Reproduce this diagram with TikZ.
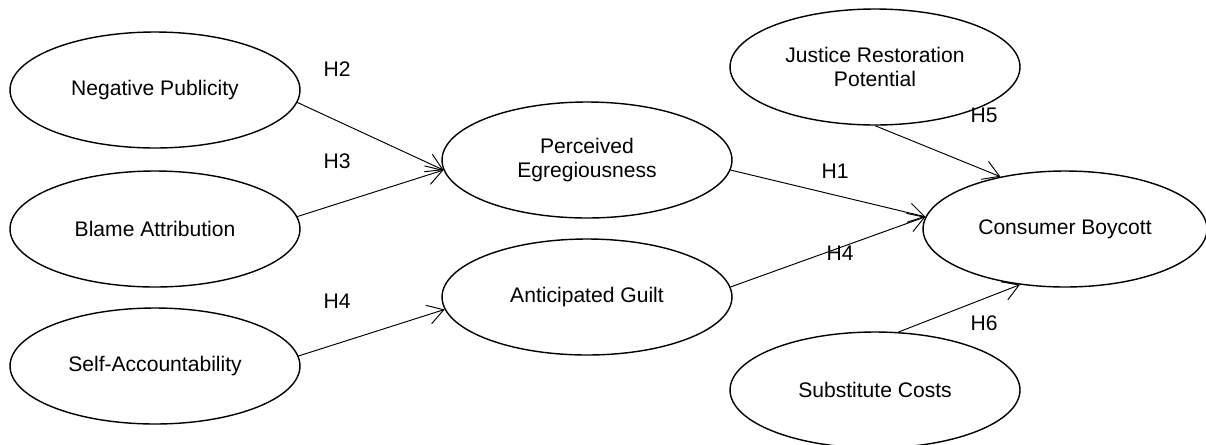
\documentclass[tikz,border=0pt]{standalone}
\usepackage{fontspec}
\setmainfont{Liberation Sans}
\usetikzlibrary{arrows.meta,shapes.geometric}

\begin{document}
\begin{tikzpicture}[
    x=0.02cm, y=-0.02cm,
    construct/.style={ellipse, draw, line width=0.8pt, minimum width=5.8cm, minimum height=2.32cm,
        inner sep=0pt, align=center, font=\fontsize{12}{13.5}\selectfont},
    wide construct/.style={construct, minimum width=5.68cm},
    hypothesis/.style={-{Straight Barb[length=9pt, width=11pt]}, line width=0.55pt},
    hyp label/.style={font=\fontsize{12}{14}\selectfont, inner sep=0pt}
]

\useasboundingbox (0,0) rectangle (1206,444);

% Antecedents
\node[construct] (NP) at (155,90) {Negative Publicity};
\node[construct] (BA) at (155,229) {Blame Attribution};
\node[construct] (SA) at (155,366) {Self-Accountability};

% Mediators
\node[construct] (PE) at (587,160) {Perceived\\Egregiousness};
\node[construct] (AG) at (587,297) {Anticipated Guilt};

% Moderators and outcome
\node[construct] (JR) at (875,67) {Justice Restoration\\Potential};
\node[wide construct] (CB) at (1065,229) {Consumer Boycott};
\node[construct] (SC) at (875,390) {Substitute Costs};

% Paths
\draw[hypothesis] (NP.-5) -- (PE.184);
\draw[hypothesis] (BA.5) -- (PE.184);
\draw[hypothesis] (SA.4) -- (AG.185);
\draw[hypothesis] (PE.-4) -- (CB.175);
\draw[hypothesis] (AG.4) -- (CB.175);
\draw[hypothesis] (JR.south) -- (CB.141);
\draw[hypothesis] (SC.68) -- (CB.231);

% Hypothesis labels
\node[hyp label] (H2) at (337,69) {H2};
\node[hyp label] (H3) at (337,161) {H3};
\node[hyp label] (H4a) at (337,301) {H4};
\node[hyp label] (H1) at (835,171) {H1};
\node[hyp label] (H4b) at (840,253) {H4};
\node[hyp label] (H5) at (984,115) {H5};
\node[hyp label] (H6) at (984,323) {H6};

\end{tikzpicture}
\end{document}
